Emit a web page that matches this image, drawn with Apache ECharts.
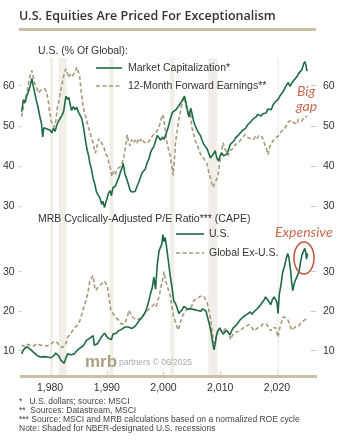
<!DOCTYPE html>
<html>
<head>
<meta charset="utf-8">
<script src="https://cdn.jsdelivr.net/npm/echarts@6/dist/echarts.min.js"></script>
<style>
  html, body { margin: 0; padding: 0; background: #fff; }
  #chart { width: 348px; height: 440px; }
</style>
</head>
<body>
<div id="chart"></div>
<script>
// U.S. share of global market capitalization (%), [year, value]
const usMarketCap = [
  [1975.0,53.5],[1975.3,56.5],[1975.6,55.8],[1975.9,57.5],[1976.2,58.5],[1976.5,60.0],[1976.8,61.8],
  [1977.0,60.2],[1977.3,58.2],[1977.6,56.2],[1977.9,54.5],[1978.2,52.3],[1978.5,50.5],[1978.7,47.2],
  [1978.9,49.5],[1979.2,49.8],[1979.5,49.2],[1979.8,49.5],[1980.1,48.8],[1980.3,48.2],[1980.6,49.4],
  [1980.9,48.6],[1981.2,50.2],[1981.5,51.2],[1981.8,50.8],[1982.1,52.6],[1982.4,53.6],[1982.6,55.5],
  [1982.8,57.4],[1983.1,56.6],[1983.3,57.1],[1983.6,55.0],[1983.8,53.8],[1984.1,54.8],[1984.4,54.0],
  [1984.7,54.6],[1985.0,53.4],[1985.3,53.6],[1985.6,51.8],[1985.9,49.6],[1986.2,46.8],[1986.5,44.2],
  [1986.8,42.5],[1987.0,40.8],[1987.3,39.2],[1987.6,36.8],[1987.9,35.4],[1988.2,33.4],[1988.5,33.8],
  [1988.8,32.0],[1989.1,30.4],[1989.3,31.2],[1989.6,29.6],[1989.8,30.8],[1990.0,31.6],[1990.3,33.2],
  [1990.6,33.8],[1990.8,32.6],[1991.1,34.6],[1991.5,34.9],[1991.8,36.0],[1992.1,37.0],[1992.4,38.4],
  [1992.7,39.6],[1992.9,40.6],[1993.2,38.0],[1993.5,36.8],[1993.8,35.5],[1994.1,34.0],[1994.4,33.5],
  [1994.7,33.8],[1995.0,33.6],[1995.3,34.8],[1995.6,35.8],[1995.9,37.0],[1996.2,38.2],[1996.5,38.6],
  [1996.8,39.2],[1997.1,40.8],[1997.4,41.6],[1997.7,43.2],[1998.0,44.2],[1998.3,44.8],[1998.6,46.2],
  [1998.9,47.6],[1999.2,47.0],[1999.5,46.4],[1999.8,47.2],[2000.1,46.6],[2000.4,47.8],[2000.7,49.0],
  [2001.0,50.6],[2001.3,52.2],[2001.6,53.4],[2001.9,53.8],[2002.2,54.0],[2002.5,54.4],[2002.8,55.2],
  [2003.1,55.8],[2003.4,56.6],[2003.7,57.4],[2003.9,56.2],[2004.2,54.0],[2004.5,52.2],[2004.8,54.4],
  [2005.0,53.2],[2005.3,51.2],[2005.6,50.0],[2005.9,49.0],[2006.2,48.2],[2006.5,47.6],[2006.8,46.4],
  [2007.1,45.4],[2007.4,44.8],[2007.7,44.2],[2008.0,43.0],[2008.3,42.0],[2008.6,41.6],[2008.9,43.2],
  [2009.1,43.8],[2009.4,42.0],[2009.7,41.2],[2010.0,42.6],[2010.3,43.2],[2010.6,42.5],[2010.9,42.8],
  [2011.2,43.0],[2011.5,43.4],[2011.8,45.4],[2012.1,45.0],[2012.4,46.2],[2012.7,47.0],[2013.0,46.6],
  [2013.3,47.8],[2013.6,48.2],[2013.9,48.8],[2014.2,48.4],[2014.5,49.4],[2014.8,50.2],[2015.1,50.4],
  [2015.4,51.0],[2015.7,51.6],[2016.0,51.8],[2016.3,52.2],[2016.6,52.8],[2016.9,52.6],[2017.2,52.4],
  [2017.5,53.0],[2017.8,52.8],[2018.1,53.2],[2018.4,54.2],[2018.7,54.6],[2019.0,54.0],[2019.3,55.2],
  [2019.6,55.8],[2019.9,55.4],[2020.2,56.6],[2020.5,57.4],[2020.8,58.0],[2021.1,58.6],[2021.4,59.4],
  [2021.7,60.2],[2022.0,60.8],[2022.3,59.8],[2022.6,60.6],[2022.9,61.2],[2023.2,61.6],[2023.5,62.2],
  [2023.8,63.0],[2024.1,62.6],[2024.4,64.0],[2024.7,65.4],[2024.9,66.0],[2025.1,65.2],[2025.3,63.6]
];

// U.S. share of global 12-month forward earnings (%), [year, value]
const usForwardEarnings = [
  [1975.0,52.3],[1975.3,54.5],[1975.6,56.8],[1975.9,58.0],[1976.2,60.5],[1976.5,62.6],[1976.8,63.8],
  [1977.0,62.4],[1977.3,60.6],[1977.6,59.8],[1977.9,58.2],[1978.2,58.0],[1978.5,59.0],[1978.8,58.6],
  [1979.1,59.2],[1979.4,58.4],[1979.7,56.0],[1979.9,53.8],[1980.2,51.2],[1980.4,50.4],[1980.7,49.6],
  [1981.0,51.0],[1981.3,54.6],[1981.6,56.4],[1981.9,58.8],[1982.2,61.0],[1982.5,63.0],[1982.8,64.2],
  [1983.0,63.4],[1983.3,62.0],[1983.6,62.8],[1983.9,62.2],[1984.2,63.0],[1984.5,63.6],[1984.7,64.6],
  [1985.0,63.4],[1985.2,62.6],[1985.5,58.6],[1985.8,55.2],[1986.1,53.0],[1986.4,51.8],[1986.7,49.8],
  [1987.0,48.6],[1987.3,47.0],[1987.6,45.8],[1987.8,44.0],[1988.0,43.2],[1988.3,45.0],[1988.6,46.8],
  [1988.9,46.2],[1989.2,45.8],[1989.5,44.6],[1989.8,43.0],[1990.1,42.4],[1990.4,40.6],[1990.7,39.0],
  [1990.9,37.4],[1991.2,38.6],[1991.5,37.8],[1991.8,39.2],[1992.1,38.8],[1992.4,39.8],[1992.7,40.8],
  [1993.0,42.2],[1993.3,44.6],[1993.6,47.8],[1993.8,46.2],[1994.1,45.0],[1994.4,46.6],[1994.7,45.8],
  [1995.0,46.4],[1995.3,45.6],[1995.6,46.8],[1995.9,46.2],[1996.2,46.8],[1996.5,46.0],[1996.8,46.4],
  [1997.1,45.6],[1997.4,45.2],[1997.7,46.6],[1998.0,47.4],[1998.3,47.0],[1998.6,48.2],[1998.9,48.8],
  [1999.2,49.6],[1999.5,51.2],[1999.8,52.8],[2000.0,52.2],[2000.3,49.0],[2000.6,45.8],[2000.9,44.0],
  [2001.2,42.4],[2001.5,39.6],[2001.7,37.6],[2001.9,41.0],[2002.1,45.6],[2002.4,48.6],[2002.7,51.4],
  [2003.0,53.6],[2003.3,55.8],[2003.6,57.2],[2003.8,56.0],[2004.1,54.2],[2004.4,52.6],[2004.7,53.8],
  [2005.0,49.6],[2005.3,48.0],[2005.6,46.2],[2005.9,45.4],[2006.2,44.2],[2006.5,43.0],[2006.8,42.6],
  [2007.1,41.8],[2007.4,41.2],[2007.7,40.4],[2008.0,38.2],[2008.3,36.8],[2008.6,35.2],[2008.8,34.6],
  [2009.0,35.8],[2009.3,36.4],[2009.6,37.8],[2009.9,40.6],[2010.2,43.2],[2010.5,45.8],[2010.8,44.2],
  [2011.1,43.6],[2011.4,42.6],[2011.7,43.8],[2012.0,44.0],[2012.3,44.4],[2012.6,45.2],[2012.9,45.6],
  [2013.2,45.8],[2013.5,46.2],[2013.8,46.8],[2014.1,47.2],[2014.4,47.8],[2014.7,47.2],[2015.0,47.6],
  [2015.3,46.8],[2015.6,47.2],[2015.9,46.6],[2016.2,47.4],[2016.5,46.8],[2016.8,47.6],[2017.1,47.8],
  [2017.4,47.2],[2017.7,46.0],[2018.0,44.8],[2018.2,44.0],[2018.4,42.8],[2018.7,44.6],[2019.0,45.6],
  [2019.3,46.2],[2019.6,46.8],[2019.9,47.2],[2020.2,47.4],[2020.5,48.0],[2020.8,48.6],[2021.1,48.8],
  [2021.4,49.4],[2021.7,50.2],[2022.0,51.0],[2022.3,50.6],[2022.6,51.4],[2022.9,50.8],[2023.2,51.2],
  [2023.5,50.4],[2023.8,51.6],[2024.1,51.8],[2024.4,51.2],[2024.7,52.0],[2025.0,52.2],[2025.3,52.4]
];

// MRB cyclically-adjusted P/E, U.S., [year, value]
const capeUS = [
  [1975.0,9.2],[1975.3,10.2],[1975.6,10.6],[1975.9,11.0],[1976.2,10.8],[1976.5,10.4],[1976.8,10.0],
  [1977.1,9.6],[1977.4,9.2],[1977.7,8.8],[1978.0,8.6],[1978.3,8.4],[1978.6,8.8],[1978.9,8.5],
  [1979.2,8.6],[1979.5,8.4],[1979.8,8.6],[1980.1,8.2],[1980.4,8.4],[1980.7,8.8],[1981.0,9.4],
  [1981.3,9.6],[1981.6,8.6],[1981.9,7.6],[1982.2,7.2],[1982.5,6.8],[1982.8,8.2],[1983.1,9.2],
  [1983.4,9.6],[1983.7,9.0],[1984.0,8.8],[1984.3,9.2],[1984.6,9.8],[1984.9,10.2],[1985.2,10.6],
  [1985.5,10.8],[1985.8,11.2],[1986.1,11.8],[1986.4,12.6],[1986.7,12.8],[1987.0,13.2],[1987.3,13.6],
  [1987.6,13.8],[1987.8,11.4],[1988.1,11.6],[1988.4,11.8],[1988.7,12.2],[1989.0,13.4],[1989.3,13.8],
  [1989.6,14.4],[1989.9,14.0],[1990.2,13.2],[1990.5,13.6],[1990.8,12.8],[1991.1,14.2],[1991.4,14.6],
  [1991.7,14.4],[1992.0,15.0],[1992.3,15.2],[1992.6,15.4],[1992.9,15.8],[1993.2,16.0],[1993.5,16.2],
  [1993.8,16.0],[1994.1,15.8],[1994.4,15.6],[1994.7,15.8],[1995.0,16.2],[1995.3,16.8],[1995.6,17.4],
  [1995.9,17.8],[1996.2,18.4],[1996.5,18.8],[1996.8,19.8],[1997.1,21.0],[1997.4,22.6],[1997.7,24.4],
  [1998.0,25.8],[1998.3,28.6],[1998.6,25.6],[1998.9,31.8],[1999.2,35.2],[1999.5,35.6],[1999.7,37.0],
  [1999.9,39.4],[2000.1,37.6],[2000.3,38.6],[2000.6,35.6],[2000.9,32.2],[2001.2,28.8],[2001.5,26.0],
  [2001.8,22.6],[2002.1,22.0],[2002.4,20.8],[2002.7,19.4],[2003.0,19.8],[2003.3,20.4],[2003.6,21.2],
  [2003.9,21.0],[2004.2,20.6],[2004.5,20.2],[2004.8,20.6],[2005.1,20.8],[2005.4,20.4],[2005.7,20.8],
  [2006.0,20.2],[2006.3,20.6],[2006.6,20.0],[2006.9,20.6],[2007.2,20.4],[2007.5,20.0],[2007.8,19.6],
  [2008.1,16.6],[2008.4,14.6],[2008.7,11.8],[2008.9,10.2],[2009.1,11.6],[2009.3,13.6],[2009.6,15.0],
  [2009.9,15.8],[2010.2,15.4],[2010.5,14.2],[2010.8,14.6],[2011.1,15.2],[2011.4,15.4],[2011.7,14.0],
  [2012.0,15.0],[2012.3,15.8],[2012.6,16.2],[2012.9,16.6],[2013.2,17.2],[2013.5,17.8],[2013.8,18.2],
  [2014.1,18.6],[2014.4,19.0],[2014.7,19.2],[2015.0,19.4],[2015.3,19.8],[2015.6,19.2],[2015.9,19.8],
  [2016.2,20.2],[2016.5,20.6],[2016.8,21.0],[2017.1,21.6],[2017.4,22.2],[2017.7,22.8],[2018.0,23.6],
  [2018.3,23.2],[2018.6,22.4],[2018.9,21.6],[2019.2,23.0],[2019.5,23.6],[2019.8,24.0],[2020.0,22.2],
  [2020.2,19.4],[2020.4,24.2],[2020.7,26.6],[2021.0,29.8],[2021.3,31.2],[2021.6,33.2],[2021.9,34.6],
  [2022.1,33.6],[2022.4,30.4],[2022.6,27.2],[2022.8,25.2],[2023.0,26.8],[2023.3,28.0],[2023.6,27.6],
  [2023.9,30.0],[2024.1,32.0],[2024.4,34.2],[2024.7,35.2],[2024.9,35.9],[2025.1,34.8],[2025.2,33.2],
  [2025.4,34.6]
];

// MRB cyclically-adjusted P/E, global ex-U.S., [year, value]
const capeGlobalExUS = [
  [1975.0,11.4],[1975.3,11.2],[1975.6,11.0],[1975.9,11.6],[1976.2,11.8],[1976.5,11.4],[1976.8,11.6],
  [1977.1,11.2],[1977.4,11.6],[1977.7,11.8],[1978.0,11.6],[1978.3,11.4],[1978.6,11.8],[1978.9,11.4],
  [1979.2,11.6],[1979.5,11.2],[1979.8,11.0],[1980.1,11.6],[1980.4,11.8],[1980.7,12.4],[1981.0,12.6],
  [1981.3,12.0],[1981.6,11.4],[1981.9,11.0],[1982.2,10.8],[1982.5,10.6],[1982.8,11.8],[1983.1,13.4],
  [1983.4,13.8],[1983.7,14.4],[1984.0,15.2],[1984.3,15.8],[1984.6,16.2],[1984.9,16.6],[1985.2,17.4],
  [1985.5,18.8],[1985.8,20.4],[1986.1,21.6],[1986.4,23.0],[1986.7,24.8],[1987.0,27.6],[1987.3,28.4],
  [1987.6,29.0],[1987.9,25.8],[1988.1,25.2],[1988.4,26.0],[1988.7,26.4],[1989.0,26.8],[1989.3,27.2],
  [1989.6,27.6],[1989.9,28.0],[1990.1,26.4],[1990.4,23.4],[1990.7,20.4],[1991.0,19.6],[1991.3,19.0],
  [1991.6,18.4],[1991.9,18.0],[1992.2,17.6],[1992.5,16.8],[1992.8,16.4],[1993.1,16.8],[1993.4,17.6],
  [1993.7,19.0],[1993.9,20.2],[1994.2,19.4],[1994.5,18.6],[1994.8,18.2],[1995.1,17.8],[1995.4,17.6],
  [1995.7,18.0],[1996.0,18.4],[1996.3,18.8],[1996.6,19.2],[1996.9,19.6],[1997.2,20.2],[1997.5,20.6],
  [1997.8,21.0],[1998.1,21.4],[1998.4,21.8],[1998.7,21.2],[1999.0,22.6],[1999.3,24.2],[1999.6,26.4],
  [1999.9,28.6],[2000.1,30.0],[2000.3,28.2],[2000.6,26.6],[2000.9,25.2],[2001.2,23.8],[2001.5,21.0],
  [2001.8,18.6],[2002.0,17.8],[2002.3,16.4],[2002.6,15.2],[2002.9,16.8],[2003.2,18.2],[2003.5,19.2],
  [2003.8,19.8],[2004.1,20.4],[2004.4,20.0],[2004.7,20.6],[2005.0,21.4],[2005.3,22.6],[2005.6,22.8],
  [2005.9,23.2],[2006.2,23.4],[2006.5,23.8],[2006.8,24.2],[2007.1,23.8],[2007.4,23.6],[2007.7,22.2],
  [2008.0,20.2],[2008.3,18.0],[2008.6,14.6],[2008.8,12.4],[2009.0,11.8],[2009.2,12.6],[2009.5,15.0],
  [2009.8,15.6],[2010.1,15.8],[2010.4,14.6],[2010.7,15.0],[2011.0,15.8],[2011.3,16.2],[2011.6,14.2],
  [2011.8,12.8],[2012.1,13.8],[2012.4,14.4],[2012.7,14.0],[2013.0,14.8],[2013.3,15.2],[2013.6,15.0],
  [2013.9,15.6],[2014.2,15.8],[2014.5,16.2],[2014.8,16.0],[2015.1,16.6],[2015.4,16.8],[2015.7,15.6],
  [2016.0,15.0],[2016.3,15.4],[2016.6,15.8],[2016.9,15.6],[2017.2,16.2],[2017.5,16.8],[2017.8,17.0],
  [2018.1,16.8],[2018.4,16.4],[2018.7,15.6],[2018.9,15.0],[2019.2,15.8],[2019.5,15.6],[2019.8,15.8],
  [2020.0,15.4],[2020.2,13.4],[2020.5,15.8],[2020.8,17.2],[2021.1,18.6],[2021.4,18.8],[2021.7,18.2],
  [2022.0,17.6],[2022.3,16.4],[2022.6,15.2],[2022.9,15.0],[2023.2,16.0],[2023.5,16.4],[2023.8,16.2],
  [2024.1,16.8],[2024.4,17.2],[2024.7,17.6],[2025.0,17.8],[2025.3,18.2]
];

// NBER-designated U.S. recessions, [start, end] in fractional years
const recessions = [
  [1980.0, 1980.5], [1981.5, 1982.9], [1990.5, 1991.2],
  [2001.2, 2001.9], [2007.9, 2009.5], [2020.1, 2020.35]
];

// axis ticks
const yearTicks = [1980, 1990, 2000, 2010, 2020];
const shareTicks = [30, 40, 50, 60];
const capeTicks = [10, 20, 30];

const GREEN = '#1f6b46';
const TAN = '#a8997b';
const BAND = '#f0eee7';
const ANNOT = '#cd6a52';
const FONT = '"Liberation Sans", Arial, sans-serif';

const bandAreas = recessions.map(r => [{ xAxis: r[0] }, { xAxis: r[1] }]);

function yAxisFor(grid, pos, min, max, ticks) {
  return {
    type: 'value', gridIndex: grid, position: pos, min: min, max: max,
    axisLine: { show: false },
    splitLine: { show: false },
    axisTick: { show: true, customValues: ticks, length: pos === 'right' ? 5 : 3,
                lineStyle: { color: '#c8c8c8', width: 1 } },
    axisLabel: { customValues: ticks, color: '#333', fontFamily: FONT, fontSize: 10.5,
                 margin: pos === 'right' ? 12 : 7 }
  };
}

function text(x, y, str, style) {
  return { type: 'text', x: x, y: y, z: 100, silent: true,
           style: Object.assign({ text: str, fill: '#333', font: '10.5px ' + FONT,
                                  textVerticalAlign: 'middle' }, style || {}) };
}
function seg(x1, y1, x2, y2, color, width, dash) {
  return { type: 'line', z: 100, silent: true, shape: { x1: x1, y1: y1, x2: x2, y2: y2 },
           style: { stroke: color, lineWidth: width, lineDash: dash || null } };
}

const chart = echarts.init(document.getElementById('chart'), null, { renderer: 'canvas' });

chart.setOption({
  animation: false,
  backgroundColor: '#fff',
  grid: [
    { left: 20, right: 37, top: 58, height: 156 },
    { left: 20, right: 37, top: 214, height: 162 }
  ],
  xAxis: [
    { type: 'value', gridIndex: 0, min: 1975, max: 2026,
      axisLine: { show: false }, axisTick: { show: false }, axisLabel: { show: false },
      splitLine: { show: false } },
    { type: 'value', gridIndex: 1, min: 1975, max: 2026,
      axisLine: { show: false }, splitLine: { show: false },
      axisTick: { show: true, inside: true, length: 5, customValues: yearTicks,
                  lineStyle: { color: '#cfcfcf' } },
      axisLabel: { customValues: yearTicks, color: '#333', fontFamily: FONT, fontSize: 10.5,
                   margin: 7 } }
  ],
  yAxis: [
    yAxisFor(0, 'left', 28, 66.9, shareTicks),
    yAxisFor(0, 'right', 28, 66.9, shareTicks),
    yAxisFor(1, 'left', 3.6, 44.6, capeTicks),
    yAxisFor(1, 'right', 3.6, 44.6, capeTicks)
  ],
  series: [
    { type: 'line', name: 'Market Capitalization*', xAxisIndex: 0, yAxisIndex: 0,
      data: usMarketCap, symbol: 'none', lineStyle: { color: GREEN, width: 1.6 }, z: 3,
      markArea: { silent: true, itemStyle: { color: BAND }, data: bandAreas } },
    { type: 'line', name: '12-Month Forward Earnings**', xAxisIndex: 0, yAxisIndex: 0,
      data: usForwardEarnings, symbol: 'none', z: 2,
      lineStyle: { color: TAN, width: 1.6, type: [4, 2.5] } },
    { type: 'line', name: 'U.S.', xAxisIndex: 1, yAxisIndex: 2,
      data: capeUS, symbol: 'none', lineStyle: { color: GREEN, width: 1.6 }, z: 3,
      markArea: { silent: true, itemStyle: { color: BAND }, data: bandAreas } },
    { type: 'line', name: 'Global Ex-U.S.', xAxisIndex: 1, yAxisIndex: 2,
      data: capeGlobalExUS, symbol: 'none', z: 2,
      lineStyle: { color: TAN, width: 1.6, type: [4, 2.5] } }
  ],
  graphic: [
    // heading and rule
    text(19, 16, 'U.S. Equities Are Priced For Exceptionalism',
         { font: '600 12.5px "Open Sans", sans-serif', fill: '#333' }),
    { type: 'rect', z: 100, silent: true, shape: { x: 19, y: 28, width: 297, height: 3 },
      style: { fill: '#cbc0a2' } },
    // top panel labels and key
    text(38, 51, 'U.S. (% Of Global):'),
    seg(96, 68, 122, 68, GREEN, 1.6),
    text(128, 68, 'Market Capitalization*'),
    seg(96, 86, 122, 86, TAN, 1.6, [4, 2.5]),
    text(128, 86, '12-Month Forward Earnings**'),
    text(297, 91, 'Big', { font: 'italic 14px Lato, sans-serif', fill: ANNOT }),
    text(296, 106, 'gap', { font: 'italic 14px Lato, sans-serif', fill: ANNOT }),
    // bottom panel labels and key
    text(38, 219, 'MRB Cyclically-Adjusted P/E Ratio*** (CAPE)'),
    seg(176, 234, 204, 234, GREEN, 1.6),
    text(209, 234, 'U.S.'),
    seg(176, 253, 204, 253, TAN, 1.6, [4, 2.5]),
    text(209, 253, 'Global Ex-U.S.'),
    text(275, 232, 'Expensive', { font: 'italic 14px Lato, sans-serif', fill: ANNOT }),
    { type: 'ellipse', z: 100, silent: true, shape: { cx: 304, cy: 258, rx: 10, ry: 16 },
      style: { fill: null, stroke: '#c0523a', lineWidth: 1.5 } },
    // watermark
    text(85, 362, 'mrb', { font: 'bold 17px "Liberation Sans", sans-serif', fill: '#ab9f86' }),
    text(119, 363, 'partners \u00a9 06/2025', { font: '8.5px ' + FONT, fill: '#aaa' }),
    // base line of the time axis
    { type: 'rect', z: 100, silent: true, shape: { x: 20, y: 375, width: 297, height: 3 },
      style: { fill: '#cbc0a2' } },
    // footnotes
    text(19, 402, '*   U.S. dollars; source: MSCI', { font: '8.5px ' + FONT, fill: '#444' }),
    text(19, 411, '**  Sources: Datastream, MSCI', { font: '8.5px ' + FONT, fill: '#444' }),
    text(19, 420, '*** Source: MSCI and MRB calculations based on a normalized ROE cycle', { font: '8.5px ' + FONT, fill: '#444' }),
    text(19, 429, 'Note: Shaded for NBER-designated U.S. recessions', { font: '8.5px ' + FONT, fill: '#444' })
  ]
});
</script>
</body>
</html>
